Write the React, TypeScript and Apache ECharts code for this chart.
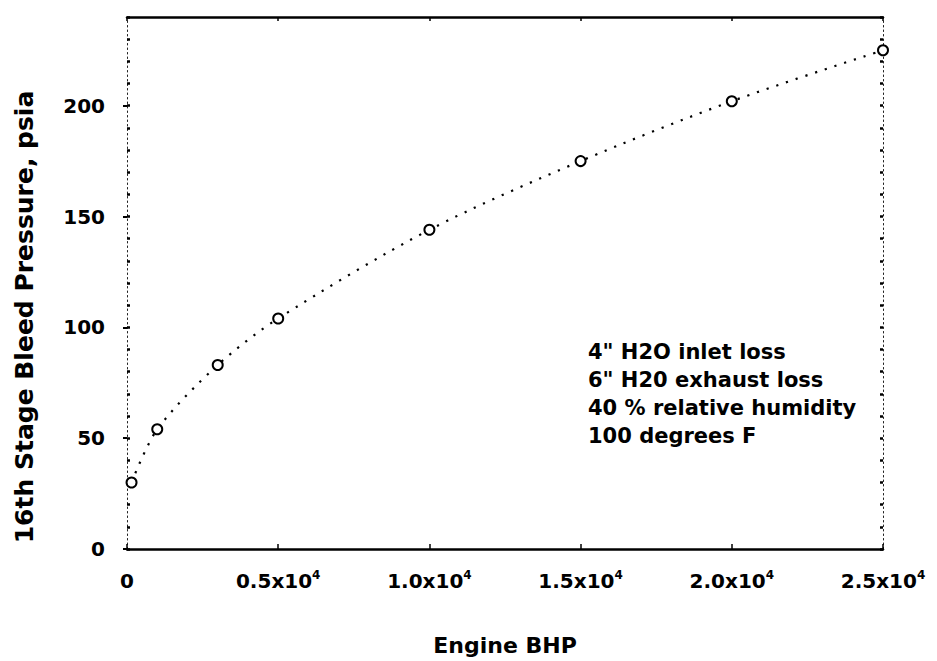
import React, { useEffect, useRef } from "react";
import * as echarts from "echarts";

// Data
const engineBhp = [150, 1000, 3000, 5000, 10000, 15000, 20000, 25000];
const bleedPressure = [30, 54, 83, 104, 144, 175, 202, 225];
const xTickStep = 5000;
const yTickStep = 50;
const yMinorStep = 10;
const xRange = [0, 25000];
const yRange = [0, 240];
const notes = ['4" H2O inlet loss', '6" H20 exhaust loss', "40 % relative humidity", "100 degrees F"];
const xTitle = "Engine BHP";
const yTitle = "16th Stage Bleed Pressure, psia";

const FONT = '"DejaVu Sans", sans-serif';

export default function App() {
  const ref = useRef<HTMLDivElement>(null);

  useEffect(() => {
    if (!ref.current) return;
    const chart = echarts.init(ref.current, undefined, { renderer: "svg" });

    const xLabel = (v: number) =>
      v === 0 ? "{a|0}" : `{a|${(v / 10000).toFixed(1)}x10}{s|4}`;

    const option: any = {
      animation: false,
      backgroundColor: "#fff",
      grid: { left: 127, right: 54, top: 17, bottom: 112 },
      xAxis: [
        {
          type: "value",
          position: "bottom",
          min: xRange[0],
          max: xRange[1],
          interval: xTickStep,
          name: xTitle,
          nameLocation: "middle",
          nameGap: 85,
          nameTextStyle: { fontFamily: FONT, fontWeight: "bold", fontSize: 22, color: "#000" },
          axisLine: { show: true, onZero: false, lineStyle: { color: "#000", width: 2.5 } },
          axisTick: { show: true, inside: true, length: 5, lineStyle: { color: "#000", width: 1.5 } },
          splitLine: { show: false },
          axisLabel: {
            margin: 20,
            formatter: xLabel,
            rich: {
              a: { fontFamily: FONT, fontWeight: "bold", fontSize: 20, color: "#000", lineHeight: 24 },
              s: { fontFamily: FONT, fontWeight: "bold", fontSize: 12, color: "#000", verticalAlign: "top", lineHeight: 14 },
            },
          },
        },
        {
          type: "value",
          position: "top",
          min: xRange[0],
          max: xRange[1],
          interval: xTickStep,
          axisLine: { show: true, onZero: false, lineStyle: { color: "#000", width: 2.5 } },
          axisTick: { show: true, inside: true, length: 4, lineStyle: { color: "#000", width: 1.5 } },
          axisLabel: { show: false },
          splitLine: { show: false },
        },
      ],
      yAxis: [
        {
          type: "value",
          position: "left",
          min: yRange[0],
          max: yRange[1],
          interval: yTickStep,
          axisLine: { show: false, onZero: false },
          axisTick: { show: true, inside: false, length: 4, lineStyle: { color: "#000", width: 2 } },
          splitLine: { show: false },
          axisLabel: {
            margin: 22,
            showMaxLabel: false,
            formatter: (v: number) => (v % yTickStep === 0 ? String(v) : ""),
            fontFamily: FONT,
            fontWeight: "bold",
            fontSize: 20,
            color: "#000",
          },
        },
        {
          type: "value",
          position: "left",
          min: yRange[0],
          max: yRange[1],
          interval: yMinorStep,
          axisLine: { show: true, onZero: false, lineStyle: { color: "#222", width: 1, type: [1.5, 3] } },
          axisTick: { show: true, inside: true, length: 3, lineStyle: { color: "#000", width: 2.5 } },
          axisLabel: { show: false },
          splitLine: { show: false },
        },
        {
          type: "value",
          position: "right",
          min: yRange[0],
          max: yRange[1],
          interval: yMinorStep,
          axisLine: { show: true, onZero: false, lineStyle: { color: "#222", width: 1, type: [1.5, 3] } },
          axisTick: { show: true, inside: true, length: 3, lineStyle: { color: "#000", width: 2.5 } },
          axisLabel: { show: false },
          splitLine: { show: false },
        },
      ],
      series: [
        {
          type: "line",
          xAxisIndex: 0,
          yAxisIndex: 0,
          data: engineBhp.map((x, i) => [x, bleedPressure[i]]),
          smooth: 0.3,
          symbol: "emptyCircle",
          symbolSize: 10,
          itemStyle: { color: "#000", borderColor: "#000", borderWidth: 2 },
          lineStyle: { color: "#000", width: 2.2, type: [2.2, 8] },
          z: 3,
        },
      ],
      graphic: [
        {
          type: "text",
          left: 588,
          top: 338,
          style: {
            text: notes.join("\n"),
            fontFamily: FONT,
            fontWeight: "bold",
            fontSize: 21,
            lineHeight: 28,
            fill: "#000",
          },
        },
        {
          type: "text",
          x: 24,
          y: 317,
          rotation: Math.PI / 2,
          style: {
            text: yTitle,
            fontFamily: FONT,
            fontWeight: "bold",
            fontSize: 25,
            align: "center",
            verticalAlign: "middle",
            fill: "#000",
          },
        },
      ],
    };

    chart.setOption(option);
    return () => chart.dispose();
  }, []);

  return (
    <div
      ref={ref}
      style={{ position: "fixed", left: 0, top: 0, width: 937, height: 661, background: "#fff" }}
    />
  );
}
